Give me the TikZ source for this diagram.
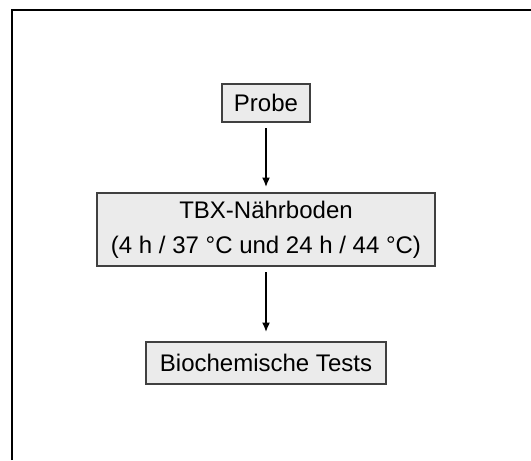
\documentclass[tikz,border=0pt]{standalone}
\usepackage{fontspec}
\setmainfont{Liberation Sans}
\usetikzlibrary{arrows.meta}

\definecolor{boxfill}{HTML}{EBEBEB}
\definecolor{boxline}{HTML}{404040}

\tikzset{
  stagebox/.style={draw=boxline, fill=boxfill, line width=1.1pt, inner sep=0pt,
    align=center, font=\fontsize{18}{26.5}\selectfont},
  flowarrow/.style={-{Latex[length=7pt,width=6pt]}, line width=1.1pt, black}
}

\begin{document}
\begin{tikzpicture}[x=0.75pt,y=-0.75pt]
      \useasboundingbox (0,0) rectangle (531,460);
      \fill[white] (0,0) rectangle (531,460);
      \draw[line width=1.5pt] (12,460) -- (12,10) -- (531,10); % outer frame
      \node[stagebox, minimum width=66pt, minimum height=28.5pt] (probe) at (266,103) {Probe};
      \node[stagebox, minimum width=253.5pt, minimum height=54.75pt] (tbx) at (266,229.5)
        {TBX-Nährboden\\(4 h / 37 °C und 24 h / 44 °C)};
      \node[stagebox, minimum width=180pt, minimum height=31.5pt] (tests) at (266,363) {Biochemische Tests};
      \draw[flowarrow] ([yshift=-4pt]probe.south) -- ([yshift=4pt]tbx.north);
      \draw[flowarrow] ([yshift=-4pt]tbx.south) -- ([yshift=7pt]tests.north);
    \end{tikzpicture}
\end{document}
